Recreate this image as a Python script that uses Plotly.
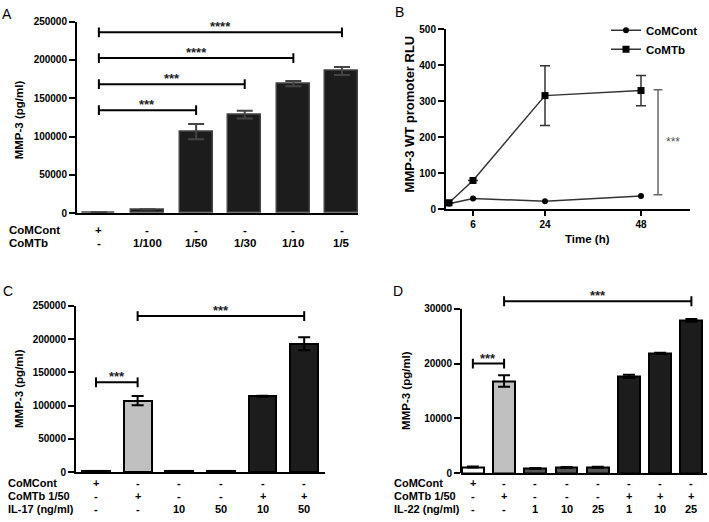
import plotly.graph_objects as go

W, H = 709, 522
FONT = "Liberation Sans, Arial, sans-serif"

# ---------------- data ----------------
# Panel A
a_comcont = ["+", "-", "-", "-", "-", "-"]
a_comtb = ["-", "1/100", "1/50", "1/30", "1/10", "1/5"]
a_vals = [1000, 5000, 106500, 128500, 169000, 185500]
a_err = [0, 0, 10000, 5000, 3500, 5200]
a_brackets = [(0, 2, 134400, "***"), (0, 3, 168400, "***"),
              (0, 4, 202400, "****"), (0, 5, 236000, "****")]

# Panel B
b_time = [0, 6, 24, 48]
b_comcont = [15, 30, 22, 37]
b_comtb = [18, 80, 316, 330]
b_comtb_err = [0, 0, 83, 42]
b_sig = (52.25, 40, 332, "***")

# Panel C
c_comcont = ["+", "-", "-", "-", "-", "-"]
c_comtb = ["-", "+", "-", "-", "+", "+"]
c_il17 = ["-", "-", "10", "50", "10", "50"]
c_vals = [1500, 107500, 1000, 1500, 114000, 193000]
c_err = [0, 6800, 0, 0, 800, 9800]
c_brackets = [(0, 1, 135000, "***"), (1, 5, 234700, "***")]

# Panel D
d_comcont = ["+", "-", "-", "-", "-", "-", "-", "-"]
d_comtb = ["-", "+", "-", "-", "-", "+", "+", "+"]
d_il22 = ["-", "-", "1", "10", "25", "1", "10", "25"]
d_vals = [1100, 16800, 850, 1000, 1050, 17650, 21850, 27900]
d_err = [100, 1050, 50, 80, 80, 300, 120, 250]
d_brackets = [(0, 1, 20000, "***"), (1, 7, 31400, "***")]

# ---------------- styling helpers ----------------
DARK = "#1c1c1c"
GREY = "#c0c0c0"
MID = "#555555"
c_colors = [DARK, GREY, DARK, DARK, DARK, DARK]
d_colors = ["white", GREY, MID, MID, MID, DARK, DARK, DARK]


def px_x(p):
    return p / W


def px_y(p):
    return 1 - p / H


fig = go.Figure()

# Panel A bars
a_x = list(range(len(a_vals)))
fig.add_trace(go.Bar(x=a_x, y=a_vals, xaxis="x", yaxis="y", width=0.68,
                     marker=dict(color=DARK, line=dict(color="#444", width=1.5)),
                     error_y=dict(type="data", array=a_err, color="#444", thickness=2, width=8),
                     showlegend=False))

# Panel B lines
fig.add_trace(go.Scatter(x=b_time, y=b_comcont, xaxis="x2", yaxis="y2", mode="lines+markers",
                         name="CoMCont", line=dict(color="#333", width=1.5),
                         marker=dict(symbol="circle", size=6, color="black"), cliponaxis=False))
fig.add_trace(go.Scatter(x=b_time, y=b_comtb, xaxis="x2", yaxis="y2", mode="lines+markers",
                         name="CoMTb", line=dict(color="#333", width=1.5),
                         marker=dict(symbol="square", size=7, color="black"),
                         error_y=dict(type="data", array=b_comtb_err, color="#333", thickness=1.5, width=5),
                         cliponaxis=False))

# Panel C bars
c_x = list(range(len(c_vals)))
fig.add_trace(go.Bar(x=c_x, y=c_vals, xaxis="x3", yaxis="y3", width=0.67,
                     marker=dict(color=c_colors, line=dict(color="black", width=2)),
                     error_y=dict(type="data", array=c_err, color="black", thickness=2, width=6),
                     showlegend=False))

# Panel D bars
d_x = list(range(len(d_vals)))
fig.add_trace(go.Bar(x=d_x, y=d_vals, xaxis="x4", yaxis="y4", width=0.7,
                     marker=dict(color=d_colors, line=dict(color="black", width=2)),
                     error_y=dict(type="data", array=d_err, color="black", thickness=2, width=6),
                     showlegend=False))

annotations = []
shapes = []


def add_brackets(brackets, xa, ya, cap, color="black", lw=2, fsize=13, yshift=-4):
    for (i0, i1, yv, txt) in brackets:
        xs = [i0, i0, None, i0, i1, None, i1, i1]
        ys = [yv - cap, yv + cap, None, yv, yv, None, yv - cap, yv + cap]
        fig.add_trace(go.Scatter(x=xs, y=ys, xaxis=xa, yaxis=ya, mode="lines",
                                 line=dict(color=color, width=lw), showlegend=False,
                                 hoverinfo="skip"))
        annotations.append(dict(x=(i0 + i1) / 2, y=yv, xref=xa, yref=ya, text=txt,
                                showarrow=False, yanchor="bottom", yshift=yshift,
                                font=dict(family=FONT, size=fsize, color="#222", weight="bold")))


add_brackets(a_brackets, "x", "y", 6400)
add_brackets(c_brackets, "x3", "y3", 7400)
add_brackets(d_brackets, "x4", "y4", 900)

# Panel B significance bar (vertical)
sx, sy0, sy1, stxt = b_sig
fig.add_trace(go.Scatter(x=[sx, sx, None, sx - 1.1, sx + 1.1, None, sx - 1.1, sx + 1.1],
                         y=[sy0, sy1, None, sy0, sy0, None, sy1, sy1],
                         xaxis="x2", yaxis="y2", mode="lines",
                         line=dict(color="#666", width=1.5), showlegend=False, hoverinfo="skip"))
annotations.append(dict(x=sx + 1.6, y=(sy0 + sy1) / 2, xref="x2", yref="y2", text=stxt,
                        showarrow=False, xanchor="left", yanchor="middle",
                        font=dict(family=FONT, size=12, color="#555")))


def bold_font(size, color="black"):
    return dict(family=FONT, size=size, color=color, weight="bold")


# Row labels
def add_rows(xa, rows, label_x_px, row_y_px, size=11.5):
    for (label, values), yp in zip(rows, row_y_px):
        annotations.append(dict(x=px_x(label_x_px), y=px_y(yp), xref="paper", yref="paper",
                                text=label, showarrow=False, xanchor="left", yanchor="middle",
                                font=bold_font(size)))
        for i, v in enumerate(values):
            annotations.append(dict(x=i, y=px_y(yp), xref=xa, yref="paper", text=v,
                                    showarrow=False, xanchor="center", yanchor="middle",
                                    font=bold_font(size)))


add_rows("x", [("CoMCont", a_comcont), ("CoMTb", a_comtb)], 7, [229, 243])
add_rows("x3", [("CoMCont", c_comcont), ("CoMTb 1/50", c_comtb), ("IL-17 (ng/ml)", c_il17)],
         6, [488, 502, 514.5], size=11)
add_rows("x4", [("CoMCont", d_comcont), ("CoMTb 1/50", d_comtb), ("IL-22 (ng/ml)", d_il22)],
         392, [488, 502, 514.5], size=11)

# Axis titles
for (xp, yp, txt, size) in [(19, 117, "MMP-3 (pg/ml)", 11.5),
                            (409, 111, "MMP-3 WT promoter RLU", 13),
                            (19, 392, "MMP-3 (pg/ml)", 11.5),
                            (406, 394, "MMP-3 (pg/ml)", 11.5)]:
    annotations.append(dict(x=px_x(xp), y=px_y(yp), xref="paper", yref="paper", text=txt,
                            textangle=-90, showarrow=False, xanchor="center", yanchor="middle",
                            font=bold_font(size)))
annotations.append(dict(x=px_x(587), y=px_y(238), xref="paper", yref="paper", text="Time (h)",
                        showarrow=False, xanchor="center", yanchor="middle", font=bold_font(11.5)))

# Panel letters
for (xp, yp, txt) in [(7, 8, "A"), (399, 6, "B"), (8, 292, "C"), (398, 292, "D")]:
    annotations.append(dict(x=px_x(xp), y=px_y(yp), xref="paper", yref="paper", text=txt,
                            showarrow=False, xanchor="center", yanchor="middle",
                            font=dict(family=FONT, size=14, color="black")))

# D y-axis line limited to 0..30000
shapes.append(dict(type="line", xref="x4 domain", yref="y4", x0=0, x1=0, y0=0, y1=30000,
                   line=dict(color="black", width=2)))

common_y = dict(showgrid=False, zeroline=False, ticks="outside", ticklen=6, tickwidth=2,
                tickcolor="black", showline=True, linewidth=2, linecolor="black",
                tickfont=bold_font(10), tickformat="d")
common_xbar = dict(showgrid=False, zeroline=False, showticklabels=False, ticks="",
                   showline=True, linewidth=2, linecolor="black")

fig.update_layout(
    width=W, height=H, autosize=False,
    margin=dict(l=0, r=0, t=0, b=0, pad=0),
    paper_bgcolor="white", plot_bgcolor="white",
    bargap=0,
    xaxis=dict(domain=[px_x(77), px_x(358)], range=[-0.45, 5.33], anchor="y", **common_xbar),
    yaxis=dict(domain=[px_y(212), px_y(16)], range=[0, 250000], anchor="x",
               tickvals=[0, 50000, 100000, 150000, 200000, 250000], **common_y),
    xaxis2=dict(domain=[px_x(446), px_x(690)], range=[-0.75, 60.25], anchor="y2",
                showgrid=False, zeroline=False, ticks="outside", ticklen=5, tickwidth=2,
                tickcolor="black", showline=True, linewidth=2, linecolor="black",
                tickvals=[6, 24, 48], tickfont=bold_font(10)),
    yaxis2=dict(domain=[px_y(208), px_y(24)], range=[0, 500], anchor="x2",
                tickvals=[0, 100, 200, 300, 400, 500], **common_y),
    xaxis3=dict(domain=[px_x(76), px_x(325)], range=[-0.48, 5.5], anchor="y3", **common_xbar),
    yaxis3=dict(domain=[px_y(477), px_y(307)], range=[0, 250000], anchor="x3",
                tickvals=[0, 50000, 100000, 150000, 200000, 250000], **common_y),
    xaxis4=dict(domain=[px_x(461), px_x(707)], range=[-0.38, 7.5], anchor="y4", **common_xbar),
    yaxis4=dict(domain=[px_y(478), px_y(293.2)], range=[0, 33000], anchor="x4",
                tickvals=[0, 10000, 20000, 30000],
                **{**common_y, "showline": False}),
    showlegend=True,
    legend=dict(x=px_x(606), y=px_y(10), xanchor="left", yanchor="top",
                font=bold_font(11.5), bgcolor="rgba(0,0,0,0)", tracegroupgap=0,
                itemwidth=30),
    annotations=annotations,
    shapes=shapes,
)

fig.write_html("out.html", config={"displayModeBar": False},
               post_script="document.body.style.margin='0';document.body.style.overflow='hidden';")
